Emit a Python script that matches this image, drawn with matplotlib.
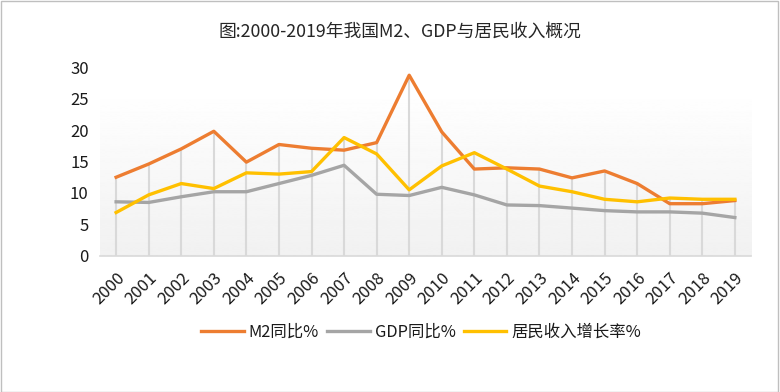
import numpy as np
import matplotlib.pyplot as plt
from matplotlib.patches import Rectangle

plt.rcParams['font.family'] = ['Noto Sans CJK SC', 'DejaVu Sans']

# data
years = [str(y) for y in range(2000, 2020)]
m2 = [12.5, 14.6, 17.0, 19.8, 14.9, 17.7, 17.1, 16.8, 18.0, 28.7,
      19.7, 13.8, 14.0, 13.8, 12.4, 13.5, 11.5, 8.3, 8.3, 8.8]
gdp = [8.6, 8.5, 9.4, 10.2, 10.2, 11.5, 12.8, 14.4, 9.8, 9.6,
       10.9, 9.7, 8.1, 8.0, 7.6, 7.2, 7.0, 7.0, 6.8, 6.1]
income = [6.9, 9.7, 11.5, 10.7, 13.2, 13.0, 13.4, 18.8, 16.2, 10.5,
          14.3, 16.4, 13.8, 11.1, 10.2, 9.0, 8.6, 9.2, 9.0, 9.0]
yticks = [0, 5, 10, 15, 20, 25, 30]

fig = plt.figure(figsize=(7.8, 3.92), dpi=100)
ax = fig.add_axes([0.128, 0.347, 0.835, 0.482])

x = np.arange(len(years))

# gradient background of the plot area
grad = np.linspace(1.0, 0.945, 256).reshape(-1, 1)
ax.imshow(grad, cmap='gray', vmin=0, vmax=1, aspect='auto',
          extent=[-0.5, len(years) - 0.5, 0, 26.7], zorder=0)

# drop lines
top = np.maximum(np.maximum(m2, gdp), income)
ax.vlines(x, 0, top, color='#d9d9d9', linewidth=1.5, zorder=1)

ax.plot(x, m2, color='#ED7D31', linewidth=2.4, label='M2同比%', zorder=3)
ax.plot(x, gdp, color='#A5A5A5', linewidth=2.4, label='GDP同比%', zorder=2)
ax.plot(x, income, color='#FFC000', linewidth=2.4, label='居民收入增长率%', zorder=4)

ax.set_xlim(-0.5, len(years) - 0.5)
ax.set_ylim(0, 30)
ax.set_yticks(yticks)
ax.set_xticks(x)
ax.set_xticklabels(years, rotation=45, ha='right', va='top', rotation_mode='anchor')
ax.tick_params(axis='both', length=0, labelsize=12, colors='#1a1a1a')
ax.tick_params(axis='x', pad=10)
ax.tick_params(axis='y', pad=8)
for s in ['top', 'right', 'left']:
    ax.spines[s].set_visible(False)
ax.spines['bottom'].set_color('#d9d9d9')
ax.spines['bottom'].set_linewidth(1.2)

fig.text(0.513, 0.918, '图:2000-2019年我国M2、GDP与居民收入概况',
         ha='center', va='center', fontsize=12.8, color='#262626')

fig.legend(loc='center', bbox_to_anchor=(0.54, 0.153), ncol=3, frameon=False,
           fontsize=11.8, handlelength=2.6, columnspacing=0.5, handletextpad=0.3,
           labelcolor='#1a1a1a')

# outer border
fig.patches.append(Rectangle((0.001, 0.001), 0.997, 0.996, transform=fig.transFigure,
                             fill=False, edgecolor='#bfbfbf', linewidth=1))

fig.savefig('out.png', dpi=100)
